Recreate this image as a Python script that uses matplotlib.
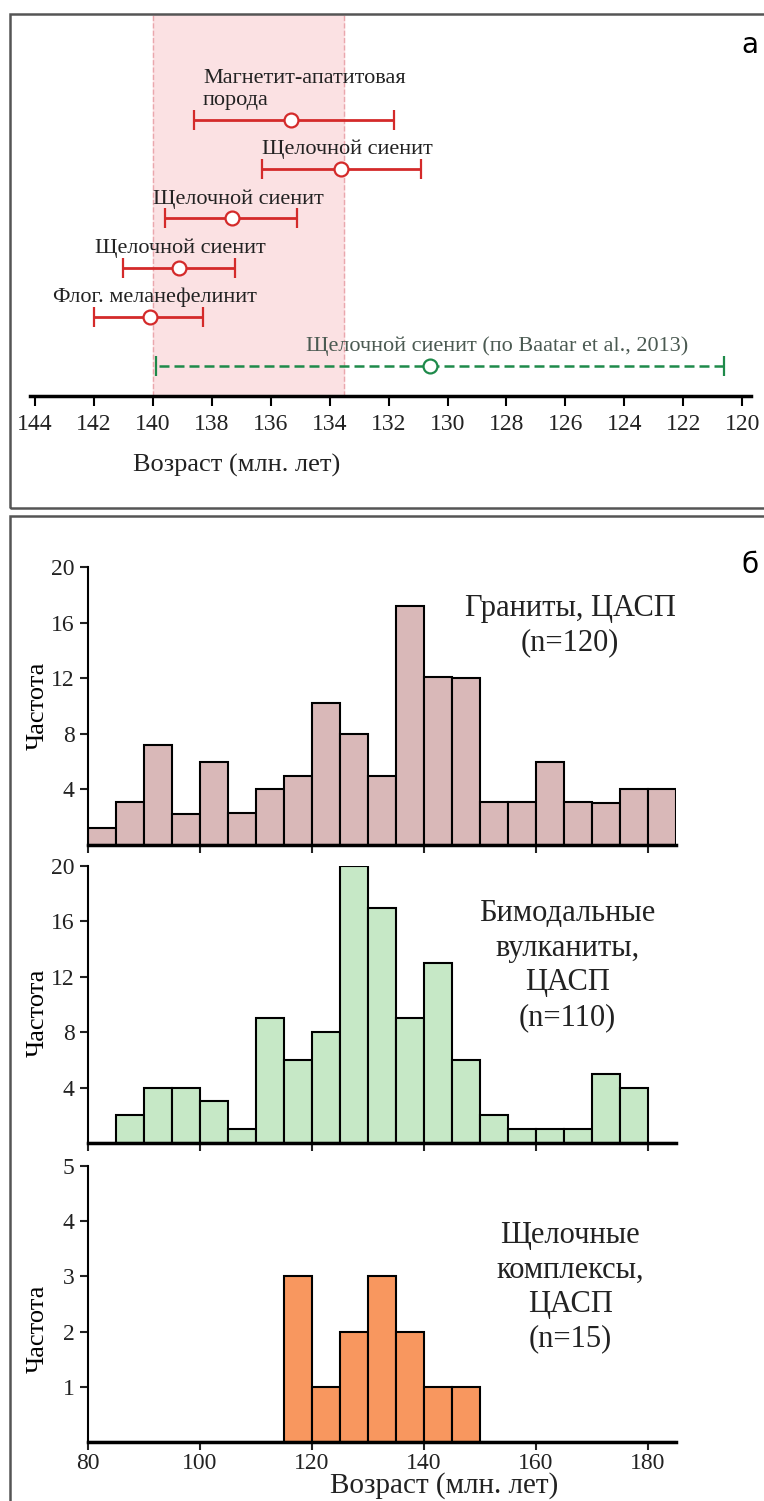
import numpy as np
import matplotlib
matplotlib.use('Agg')
import matplotlib.pyplot as plt
from matplotlib.patches import Rectangle

plt.rcParams['font.family'] = ['Liberation Serif', 'DejaVu Serif']

# --- panel a: U-Pb ages with errors ---
labels = ['Щелочной сиенит (по Baatar et al., 2013)', 'Флог. меланефелинит',
          'Щелочной сиенит', 'Щелочной сиенит', 'Щелочной сиенит',
          'Магнетит-апатитовая\nпорода']
age = [130.6, 140.1, 139.1, 137.3, 133.6, 135.3]
age_lo = [139.9, 142.0, 141.0, 139.6, 136.3, 138.6]
age_hi = [120.6, 138.3, 137.2, 135.1, 130.9, 131.8]
label_x = [134.8, 143.4, 141.95, 140.0, 136.3, 138.3]
span = (140.0, 133.5)
top_ticks = np.arange(144, 119, -2)

# --- panel b: histograms ---
bins = np.arange(80, 190, 5)
granite = [1.2, 3.1, 7.2, 2.2, 6, 2.3, 4, 5, 10.2, 8, 5, 17.2, 12.1, 12, 3.1, 3.1, 6, 3.1, 3, 4, 4]
volcanic = [0, 2, 4, 4, 3, 1, 9, 6, 8, 20, 17, 9, 13, 6, 2, 1, 1, 1, 5, 4, 0]
alkaline = [0, 0, 0, 0, 0, 0, 0, 3, 1, 2, 3, 2, 1, 1, 0, 0, 0, 0, 0, 0, 0]

W, H = 764, 1501
fig = plt.figure(figsize=(W / 100, H / 100), dpi=100)


def fbox(x0, y0, x1, y1):
    # pixel box (top-left origin) -> figure fraction rect
    return [x0 / W, 1 - y1 / H, (x1 - x0) / W, (y1 - y0) / H]


# frames
fig.patches.append(Rectangle((10 / W, 1 - 508 / H), 1.0, (508 - 14) / H,
                             transform=fig.transFigure, fill=False, ec='#555555', lw=1.8))
fig.patches.append(Rectangle((10 / W, -0.05), 1.0, 0.05 + (1 - 516 / H),
                             transform=fig.transFigure, fill=False, ec='#555555', lw=1.8))

ax = fig.add_axes(fbox(30, 14, 751, 396))
ax.set_xlim(144.17, 119.7)
ax.set_ylim(-0.61, 7.15)
ax.axvspan(span[0], span[1], color='#fbe1e3', zorder=0)
for v in span:
    ax.axvline(v, color='#eaa7ad', ls='--', lw=1, zorder=0)
for i in range(len(age)):
    green = i == 0
    col = '#1e8a4a' if green else '#d42a2a'
    eb = ax.errorbar(age[i], i, xerr=[[age[i] - age_hi[i]], [age_lo[i] - age[i]]],
                     fmt='o', color=col, mfc='white', mec=col, ms=10, mew=1.6,
                     elinewidth=2 if not green else 1.8, capsize=7, capthick=2)
    if green:
        eb[2][0].set_linestyle((0, (4, 2)))
    ax.annotate(labels[i], (label_x[i], i), xytext=(0, 7), textcoords='offset points',
                ha='left', va='bottom', fontsize=16,
                color='#4b5a52' if green else '#222222', linespacing=1.25)
for s in ['top', 'left', 'right']:
    ax.spines[s].set_visible(False)
ax.spines['bottom'].set_linewidth(2.5)
ax.set_yticks([])
ax.set_xticks(top_ticks)
ax.tick_params(axis='x', direction='out', length=7, width=1.5, labelsize=17, pad=6,
               labelcolor='#222222')
fig.text(237 / W, 1 - 465 / H, 'Возраст (млн. лет)', ha='center', va='center', fontsize=19,
         color='#222222')
fig.text(750 / W, 1 - 45 / H, 'а', ha='center', va='center', fontsize=20, family='DejaVu Sans')
fig.text(750 / W, 1 - 565 / H, 'б', ha='center', va='center', fontsize=20, family='DejaVu Sans')

# histograms
hists = [
    (granite, '#d9b8b8', (567, 845), 20, [4, 8, 12, 16, 20], 'Граниты, ЦАСП\n(n=120)',
     0.82, 0.79, 0.50),
    (volcanic, '#c6e8c6', (866, 1143), 20, [4, 8, 12, 16, 20],
     'Бимодальные\nвулканиты,\nЦАСП\n(n=110)', 0.815, 0.64, 0.47),
    (alkaline, '#f8975f', (1166, 1442), 5, [1, 2, 3, 4, 5],
     'Щелочные\nкомплексы,\nЦАСП\n(n=15)', 0.82, 0.56, 0.41),
]
for k, (vals, col, (y0, y1), ymax, yt, title, tx, ty, ly) in enumerate(hists):
    hx = fig.add_axes(fbox(88, y0, 676, y1))
    hx.bar(bins[:-1], vals, width=5, align='edge', color=col, edgecolor='black', lw=1.5)
    hx.set_xlim(80, 185)
    hx.set_ylim(0, ymax)
    hx.set_yticks(yt)
    hx.set_xticks(np.arange(80, 181, 20))
    for s in ['top', 'right']:
        hx.spines[s].set_visible(False)
    hx.spines['bottom'].set_linewidth(2.5)
    hx.spines['left'].set_linewidth(1.5)
    hx.tick_params(direction='out', length=6, width=1.5, labelsize=17, colors='#222222')
    hx.set_ylabel('Частота', fontsize=19)
    hx.yaxis.set_label_coords(-0.066, ly)
    hx.text(tx, ty, title, transform=hx.transAxes, ha='center', va='center',
            fontsize=22, linespacing=1.25, color='#222222')
    if k < 2:
        hx.tick_params(axis='x', labelbottom=False)
    else:
        hx.tick_params(axis='x', pad=2)
fig.text(444 / W, 1 - 1486 / H, 'Возраст (млн. лет)', ha='center', va='center', fontsize=21,
         color='#222222')

fig.savefig('out.png', dpi=100)
